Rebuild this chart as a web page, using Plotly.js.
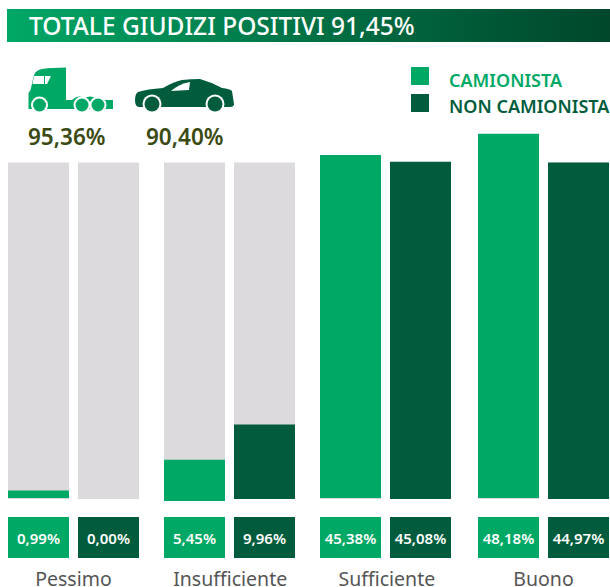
<!DOCTYPE html>
<html>
<head>
<meta charset="utf-8">
<script src="https://cdn.plot.ly/plotly-3.0.1.min.js"></script>
<style>html,body{margin:0;padding:0;background:#fff;overflow:hidden}#chart{width:610px;height:587px}</style>
</head>
<body>
<div id="chart"></div>
<script>
const categories = ['Pessimo', 'Insufficiente', 'Sufficiente', 'Buono'];
const camionista = [0.99, 5.45, 45.38, 48.18];
const nonCamionista = [0.00, 9.96, 45.08, 44.97];
const track = [45, 45, 45, 45];
const camionistaBase = [0, -0.4, 0, 0];
const totalTitle = 'TOTALE GIUDIZI POSITIVI 91,45%';
const camionistaTotal = '95,36%';
const nonCamionistaTotal = '90,40%';
const seriesNames = ['CAMIONISTA', 'NON CAMIONISTA'];

const GREEN = '#00a866', DARK = '#005c3c', GREY = '#dcdadd', OLIVE = '#3b4a12';
const FONT = '"Noto Sans", "Open Sans", sans-serif';
const W = 610, H = 587;
const pct = v => v.toFixed(2).replace('.', ',') + '%';
const px = x => x / W, py = y => 1 - y / H;

const step = 156.67, x0 = 73.5, bw = 61 / step;
const groupNudge = [0, -0.67, -1.33, 0];
const leftOff = groupNudge.map(n => (n - 65.5) / step), rightOff = groupNudge.map(n => (n + 4.5) / step);
const xrange = [-x0 / step, (W - x0) / step];

const track1 = {type:'bar', x:categories, y:track, width:bw, offset:leftOff, marker:{color:GREY}, hoverinfo:'skip', xaxis:'x', yaxis:'y', showlegend:false};
const track2 = {type:'bar', x:categories, y:track, width:bw, offset:rightOff, marker:{color:GREY}, hoverinfo:'skip', xaxis:'x', yaxis:'y', showlegend:false};
const darkBars = {type:'bar', name:seriesNames[1], x:categories, y:nonCamionista, width:bw, offset:rightOff, marker:{color:DARK}, xaxis:'x', yaxis:'y', showlegend:false};
const greenBars = {type:'bar', name:seriesNames[0], x:categories, y:camionista, base:camionistaBase, width:bw, offset:leftOff, marker:{color:GREEN}, xaxis:'x', yaxis:'y2', showlegend:false};

const tileFont = {family:FONT, size:15, color:'#ffffff', weight:600};
const tileG = {type:'bar', x:categories, y:[1,1,1,1], width:bw, offset:leftOff, marker:{color:GREEN}, text:camionista.map(pct), textposition:'inside', insidetextanchor:'middle', textangle:0, constraintext:'none', textfont:tileFont, hoverinfo:'skip', xaxis:'x2', yaxis:'y3', showlegend:false};
const tileD = {type:'bar', x:categories, y:[1,1,1,1], width:bw, offset:rightOff, marker:{color:DARK}, text:nonCamionista.map(pct), textposition:'inside', insidetextanchor:'middle', textangle:0, constraintext:'none', textfont:tileFont, hoverinfo:'skip', xaxis:'x2', yaxis:'y3', showlegend:false};

const svgUri = s => 'data:image/svg+xml;base64,' + btoa(s);
const banner = `<svg xmlns="http://www.w3.org/2000/svg" width="603" height="33" preserveAspectRatio="none"><defs><linearGradient id="g"><stop offset="0" stop-color="#00a866"/><stop offset="0.5" stop-color="#007145"/><stop offset="1" stop-color="#00472b"/></linearGradient></defs><rect width="603" height="33" fill="url(#g)"/></svg>`;
const truck = `<svg xmlns="http://www.w3.org/2000/svg" width="86" height="45" viewBox="0 0 86 45"><path fill="${GREEN}" d="M0.5 42V26L2.500 23L6 8Q8 3 14 2Q24 0.500 38 0.500V33H44Q50 27 57 31Q63 27 70 33H85V42Z"/><path fill="#fff" d="M6 9H16V17H4.500ZM17 9H23L19 17H17Z"/><circle fill="#fff" cx="11.500" cy="38" r="8.500"/><circle fill="#fff" cx="54" cy="38" r="8.500"/><circle fill="#fff" cx="70" cy="38" r="8.500"/><circle fill="${GREEN}" cx="11.500" cy="38" r="6.500"/><circle fill="${GREEN}" cx="54" cy="38" r="6.500"/><circle fill="${GREEN}" cx="70" cy="38" r="6.500"/></svg>`;
const car = `<svg xmlns="http://www.w3.org/2000/svg" width="100" height="33" viewBox="0 0 100 33"><path fill="${DARK}" d="M0 21Q0 15 3 13Q12 10 28 9Q38 3 47 1Q56 0 65 0Q76 3 87 9Q95 10 97 12L99 25Q99 28 95 28H4Q0 28 0 21Z"/><path fill="#fff" d="M36 12Q44 5 55 3L54 11Z"/><circle fill="#fff" cx="17" cy="25" r="9.500"/><circle fill="#fff" cx="80" cy="25" r="9.500"/><circle fill="${DARK}" cx="17" cy="25" r="7.500"/><circle fill="${DARK}" cx="80" cy="25" r="7.500"/></svg>`;

const layout = {
  width:W, height:H, margin:{l:0,r:0,t:0,b:0}, paper_bgcolor:'#fff', plot_bgcolor:'rgba(0,0,0,0)',
  font:{family:FONT}, barmode:'overlay',
  title:{text:totalTitle, x:px(29), xanchor:'left', xref:'paper', y:py(26), yanchor:'middle', yref:'paper', font:{family:FONT, size:24.5, color:'#fff', weight:500}, pad:{t:0,b:0,l:0,r:0}},
  xaxis:{type:'category', range:xrange, anchor:'y', domain:[0,1], showticklabels:false, showgrid:false, zeroline:false, showline:false, ticks:''},
  xaxis2:{type:'category', range:xrange, anchor:'y3', domain:[0,1], showgrid:false, zeroline:false, showline:false, ticks:'outside', ticklen:4, tickcolor:'rgba(0,0,0,0)', tickfont:{family:FONT, size:19.5, color:'#555555'}, automargin:false},
  yaxis:{domain:[py(510),py(120)], range:[(499-510)/7.48,(499-120)/7.48], visible:false, fixedrange:true},
  yaxis2:{domain:[py(510),py(120)], range:[(498-510)/7.56,(498-120)/7.56], overlaying:'y', visible:false, fixedrange:true},
  yaxis3:{domain:[py(558),py(517)], range:[0,1], visible:false, fixedrange:true, anchor:'x2'},
  images:[
    {source:svgUri(banner), xref:'paper', yref:'paper', x:px(7), y:py(9), sizex:603/W, sizey:33/H, xanchor:'left', yanchor:'top', sizing:'stretch', layer:'below'},
    {source:svgUri(truck), xref:'paper', yref:'paper', x:px(28), y:py(67), sizex:86/W, sizey:45/H, xanchor:'left', yanchor:'top', sizing:'stretch', layer:'above'},
    {source:svgUri(car), xref:'paper', yref:'paper', x:px(135), y:py(79), sizex:100/W, sizey:33/H, xanchor:'left', yanchor:'top', sizing:'stretch', layer:'above'}
  ],
  shapes:[
    {type:'rect', xref:'paper', yref:'paper', x0:px(411), x1:px(429), y0:py(67), y1:py(85), fillcolor:GREEN, line:{width:0}},
    {type:'rect', xref:'paper', yref:'paper', x0:px(411), x1:px(429), y0:py(94), y1:py(112), fillcolor:DARK, line:{width:0}}
  ],
  annotations:[
    {text:seriesNames[0], xref:'paper', yref:'paper', x:px(447), y:py(80), xanchor:'left', yanchor:'middle', showarrow:false, font:{family:FONT, size:18, color:GREEN, weight:600}},
    {text:seriesNames[1], xref:'paper', yref:'paper', x:px(447), y:py(106), xanchor:'left', yanchor:'middle', showarrow:false, font:{family:FONT, size:18, color:DARK, weight:600}},
    {text:camionistaTotal, xref:'paper', yref:'paper', x:px(66.5), y:py(137), xanchor:'center', yanchor:'middle', showarrow:false, font:{family:FONT, size:22.5, color:OLIVE, weight:600}},
    {text:nonCamionistaTotal, xref:'paper', yref:'paper', x:px(184), y:py(137), xanchor:'center', yanchor:'middle', showarrow:false, font:{family:FONT, size:22.5, color:OLIVE, weight:600}}
  ]
};
Plotly.newPlot('chart', [track1, track2, darkBars, greenBars, tileG, tileD], layout, {displayModeBar:false, staticPlot:true});
</script>
</body>
</html>
